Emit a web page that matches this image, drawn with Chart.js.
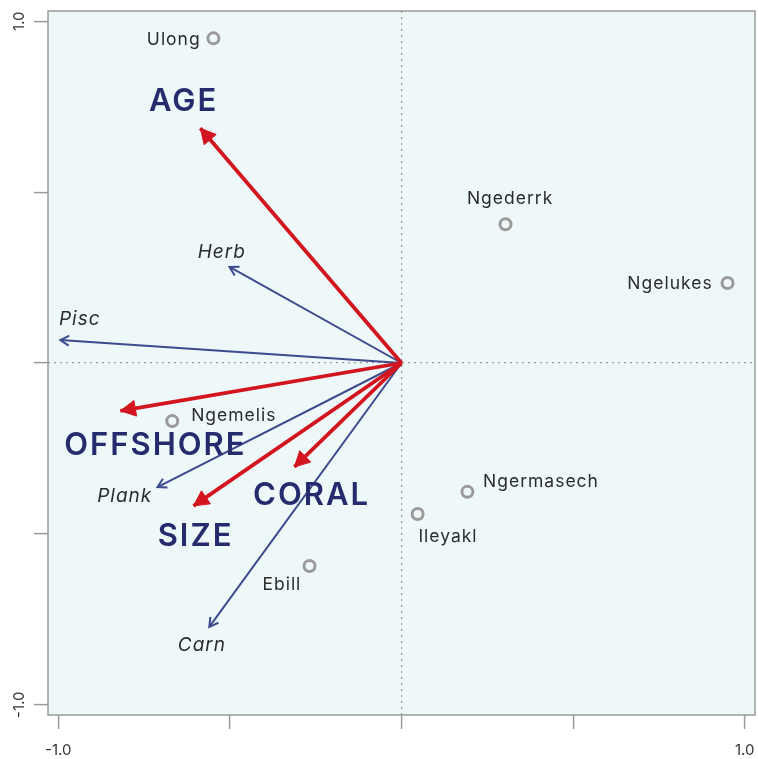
<!DOCTYPE html>
<html>
<head>
<meta charset="utf-8">
<script src="https://cdn.jsdelivr.net/npm/chart.js@4.4.0/dist/chart.umd.min.js"></script>
<style>
  html, body { margin: 0; padding: 0; background: #ffffff; }
  canvas { display: block; }
</style>
</head>
<body>
<canvas id="ordChart" width="758" height="759"></canvas>
<script>
// axis
const AXIS_MIN = -1.03;
const AXIS_MAX = 1.03;
const TICKS = [-1, -0.5, 0, 0.5, 1];
const TICK_LABELS = ['-1.0', '', '', '', '1.0'];

// sites (points)
const siteNames = ['Ulong', 'Ngederrk', 'Ngelukes', 'Ngemelis', 'Ngermasech', 'Ileyakl', 'Ebill'];
const siteX = [-0.548, 0.303, 0.950, -0.668, 0.192, 0.047, -0.268];
const siteY = [0.950, 0.406, 0.234, -0.170, -0.377, -0.442, -0.594];
const siteLabelX = [-0.665, 0.315, 0.781, -0.490, 0.405, 0.134, -0.350];
const siteLabelY = [0.947, 0.480, 0.231, -0.155, -0.348, -0.509, -0.649];

// environmental vectors (red)
const envNames = ['AGE', 'OFFSHORE', 'CORAL', 'SIZE'];
const envX = [-0.586, -0.819, -0.312, -0.606];
const envY = [0.687, -0.140, -0.304, -0.418];
const envLabelX = [-0.638, -0.720, -0.265, -0.603];
const envLabelY = [0.766, -0.243, -0.389, -0.509];

// trophic group vectors (blue)
const trophNames = ['Herb', 'Pisc', 'Plank', 'Carn'];
const trophX = [-0.501, -0.994, -0.711, -0.560];
const trophY = [0.281, 0.067, -0.363, -0.772];
const trophLabelX = [-0.525, -0.939, -0.808, -0.583];
const trophLabelY = [0.325, 0.129, -0.389, -0.827];

const RED = '#d3151f';
const BLUE = '#3c4a8e';
const NAVY = '#262b6e';
const GREY = '#9a9a9a';

function arrowSet(xs, ys, color, width, head, filled, order) {
    return xs.map((x, i) => ({
        data: [{ x: 0, y: 0 }, { x: x, y: ys[i] }],
        showLine: true,
        borderColor: color,
        borderWidth: width,
        pointRadius: 0,
        arrowHead: head,
        arrowFilled: filled,
        order: order
    }));
}

const datasets = [
    ...arrowSet(trophX, trophY, BLUE, 2, 10, false, 3),
    ...arrowSet(envX, envY, RED, 3.8, 17, true, 2),
    {
        data: siteX.map((x, i) => ({ x: x, y: siteY[i] })),
        showLine: false,
        pointRadius: 5.5,
        pointBorderWidth: 3,
        pointBorderColor: GREY,
        pointBackgroundColor: 'rgba(0,0,0,0)',
        order: 1
    }
];

// centred text with extra letter spacing
function spacedText(ctx, text, x, y, spacing) {
    ctx.letterSpacing = spacing + 'px';
    const w = ctx.measureText(text).width - spacing;
    ctx.textAlign = 'left';
    ctx.fillText(text, x - w / 2, y);
    ctx.letterSpacing = '0px';
}

const framePlugin = {
    id: 'frame',
    beforeDraw(chart) {
        const { ctx, chartArea: a } = chart;
        ctx.save();
        ctx.fillStyle = '#eff8f9';
        ctx.fillRect(a.left, a.top, a.right - a.left, a.bottom - a.top);
        ctx.restore();
    },
    afterDatasetsDraw(chart) {
        const { ctx, scales } = chart;
        chart.data.datasets.forEach(ds => {
            if (!ds.arrowHead) return;
            const x0 = scales.x.getPixelForValue(ds.data[0].x);
            const y0 = scales.y.getPixelForValue(ds.data[0].y);
            const x1 = scales.x.getPixelForValue(ds.data[1].x);
            const y1 = scales.y.getPixelForValue(ds.data[1].y);
            const ang = Math.atan2(y1 - y0, x1 - x0);
            const L = ds.arrowHead;
            const spread = ds.arrowFilled ? Math.PI / 6.5 : Math.PI / 6;
            ctx.save();
            ctx.strokeStyle = ds.borderColor;
            ctx.fillStyle = ds.borderColor;
            ctx.lineWidth = ds.arrowFilled ? 1 : ds.borderWidth;
            ctx.lineJoin = 'miter';
            ctx.beginPath();
            ctx.moveTo(x1 - L * Math.cos(ang - spread), y1 - L * Math.sin(ang - spread));
            ctx.lineTo(x1, y1);
            ctx.lineTo(x1 - L * Math.cos(ang + spread), y1 - L * Math.sin(ang + spread));
            if (ds.arrowFilled) {
                ctx.closePath();
                ctx.fill();
            }
            ctx.stroke();
            ctx.restore();
        });
    },
    afterDraw(chart) {
        const { ctx, chartArea: a, scales } = chart;
        const sx = v => scales.x.getPixelForValue(v);
        const sy = v => scales.y.getPixelForValue(v);
        ctx.save();
        ctx.textBaseline = 'middle';

        ctx.fillStyle = '#2b2b2b';
        ctx.font = '17.5px Inter';
        siteNames.forEach((n, i) => spacedText(ctx, n, sx(siteLabelX[i]), sy(siteLabelY[i]), 1));

        ctx.font = 'italic 19px Inter';
        trophNames.forEach((n, i) => spacedText(ctx, n, sx(trophLabelX[i]), sy(trophLabelY[i]), 1));

        ctx.fillStyle = NAVY;
        ctx.font = '600 31px Inter';
        envNames.forEach((n, i) => spacedText(ctx, n, sx(envLabelX[i]), sy(envLabelY[i]), 2));

        // tick labels
        ctx.fillStyle = '#333333';
        ctx.font = '15px Inter';
        ctx.textAlign = 'center';
        TICKS.forEach((v, i) => {
            if (!TICK_LABELS[i]) return;
            ctx.fillText(TICK_LABELS[i], sx(v), a.bottom + 35);
            ctx.save();
            ctx.translate(19, sy(v));
            ctx.rotate(-Math.PI / 2);
            ctx.fillText(TICK_LABELS[i], 0, 0);
            ctx.restore();
        });

        // frame
        ctx.strokeStyle = GREY;
        ctx.lineWidth = 1.5;
        ctx.strokeRect(a.left, a.top, a.right - a.left, a.bottom - a.top);
        ctx.restore();
    }
};

function axisCommon() {
    return {
        type: 'linear',
        min: AXIS_MIN,
        max: AXIS_MAX,
        afterBuildTicks: s => { s.ticks = TICKS.map(v => ({ value: v })); },
        ticks: { display: false },
        grid: {
            color: c => (c.tick && c.tick.value === 0 ? '#9a9a9a' : 'rgba(0,0,0,0)'),
            lineWidth: 1.2,
            tickColor: GREY,
            tickLength: 14,
            tickWidth: 1.5,
            drawTicks: true
        },
        border: { display: false, dash: [2, 4] }
    };
}

const xAxis = axisCommon();
xAxis.afterFit = s => {
    s.height = 44;
    s.paddingLeft = 0;
    s.paddingRight = 0;
};

const yAxis = axisCommon();
yAxis.afterFit = s => {
    s.width = 48;
    s.paddingTop = 0;
    s.paddingBottom = 0;
};

new Chart(document.getElementById('ordChart'), {
    type: 'scatter',
    data: { datasets: datasets },
    options: {
        responsive: false,
        animation: false,
        layout: { autoPadding: false, padding: { top: 11, right: 3, left: 0, bottom: 0 } },
        plugins: { legend: { display: false }, tooltip: { enabled: false } },
        scales: { x: xAxis, y: yAxis }
    },
    plugins: [framePlugin]
});
</script>
</body>
</html>
